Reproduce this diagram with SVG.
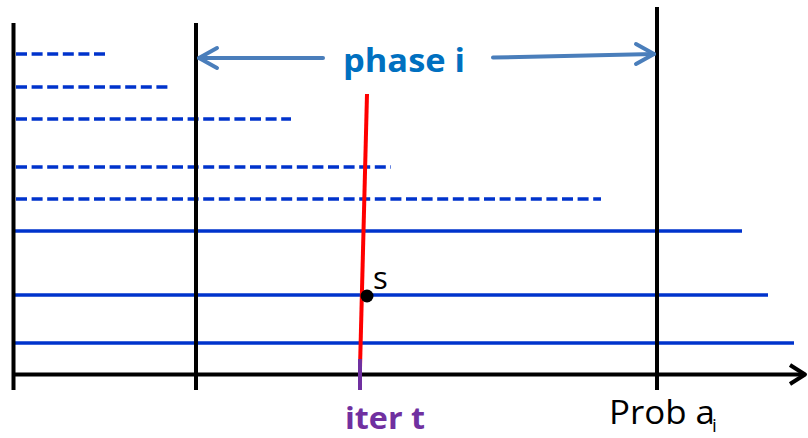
<svg xmlns="http://www.w3.org/2000/svg" width="808" height="438" viewBox="0 0 808 438">
<style>
.ax{stroke:#000;stroke-width:4;fill:none;stroke-linecap:butt}
.dl{stroke:#0033CC;stroke-width:3.5;stroke-dasharray:11 4.6;fill:none}
.sl{stroke:#0033CC;stroke-width:3.5;fill:none}
.ar{stroke:#4A7EBB;stroke-width:4;fill:none;stroke-linecap:round;stroke-linejoin:round}
.lbl{font-family:"Open Sans","Liberation Sans",sans-serif}
</style>
<rect width="808" height="438" fill="#fff"/>
<g id="levels">
<line class="dl" x1="16" y1="54" x2="105" y2="54"/>
<line class="dl" x1="16" y1="87" x2="168" y2="87"/>
<line class="dl" x1="16" y1="119" x2="291" y2="119"/>
<line class="dl" x1="16" y1="167" x2="391" y2="167"/>
<line class="dl" x1="16" y1="199" x2="601" y2="199"/>
<line class="sl" x1="15" y1="231" x2="742" y2="231"/>
<line class="sl" x1="15" y1="295" x2="768" y2="295"/>
<line class="sl" x1="15" y1="343" x2="794" y2="343"/>
</g>
<g id="axes">
<line class="ax" x1="13.5" y1="23" x2="13.5" y2="390"/>
<line class="ax" x1="196" y1="23" x2="196" y2="390"/>
<line class="ax" x1="657" y1="7" x2="657" y2="390"/>
<line class="ax" x1="12" y1="374.5" x2="805" y2="374.5"/>
<polyline class="ax" points="790,365 805,374.5 790,384" stroke-linecap="round" stroke-linejoin="round"/>
</g>
<g id="connectors">
<line class="ar" x1="323" y1="58" x2="199" y2="58"/>
<polyline class="ar" points="217,48 199,58 217,68"/>
<line class="ar" x1="493" y1="57.5" x2="654" y2="54"/>
<polyline class="ar" points="636,44 654,54 636,64"/>
</g>
<g id="iter">
<line x1="367" y1="94" x2="360" y2="368" stroke="#FF0000" stroke-width="4"/>
<line x1="360" y1="359" x2="360" y2="390" stroke="#7030A0" stroke-width="4"/>
<circle cx="367" cy="296" r="6.5" fill="#000"/>
<text class="lbl" x="373" y="289" font-size="31" fill="#000">s</text>
</g>
<g id="labels">
<text class="lbl" x="343" y="72" font-size="32" font-weight="bold" fill="#0070C0" textLength="122" lengthAdjust="spacingAndGlyphs">phase i</text>
<text class="lbl" x="345" y="429" font-size="30" font-weight="bold" fill="#7030A0" textLength="80" lengthAdjust="spacingAndGlyphs">iter t</text>
<text class="lbl" x="609" y="424" font-size="33" fill="#000" textLength="106" lengthAdjust="spacingAndGlyphs">Prob a</text>
<text class="lbl" x="712" y="432" font-size="19" fill="#000">i</text>
</g>
</svg>
